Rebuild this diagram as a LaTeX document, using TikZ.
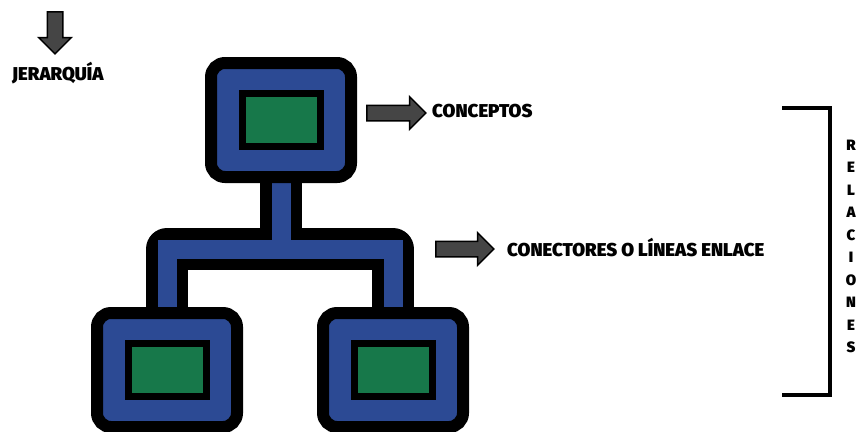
\documentclass[tikz,border=0pt]{standalone}
\usepackage{fontspec}
\setmainfont{Fira Sans}[BoldFont={Fira Sans Black}]
\usetikzlibrary{shapes.arrows}

\definecolor{boxblue}{HTML}{2C4A94}
\definecolor{boxgreen}{HTML}{17784A}
\definecolor{arrgray}{HTML}{454545}

\tikzset{
	frame/.style={draw=black, fill=boxblue, line width=12pt, rounded corners=14pt,
		minimum width=140pt, minimum height=114pt, inner sep=0pt},
	screen/.style={draw=black, fill=boxgreen, line width=7pt,
		minimum width=78pt, minimum height=53pt, inner sep=0pt},
	pipe/.style={draw=boxblue, line width=19pt,
		preaction={draw=black, line width=42pt, line join=round}},
	blockarr/.style={single arrow, draw=black, fill=arrgray, line width=1.5pt,
		inner xsep=0pt, inner ysep=7pt, single arrow head extend=8.5pt},
	label/.style={font=\bfseries\fontsize{18.6}{20}\selectfont, inner sep=0pt},
	letter/.style={font=\bfseries\fontsize{15}{16}\selectfont, inner sep=0pt}
}

\begin{document}
\begin{tikzpicture}[x=1pt, y=-1pt]
				\useasboundingbox (0,0) rectangle (861,431);

				\coordinate (fork) at (281,249);
				\node (top) at (281,120) {};
				\node (left) at (167,370) {};
				\node (right) at (393,370) {};

				% tubos
				\draw [pipe](left.center) |- (fork) -| (right.center) (fork) -- (top.center);

				% cajas
				\node [frame] (topbox) at (top) {};
				\node [frame] (leftbox) at (left) {};
				\node [frame] (rightbox) at (right) {};
				\node [screen] (topscr) at (top) {};
				\node [screen] (leftscr) at (left) {};
				\node [screen] (rightscr) at (right) {};

				% flechas y textos
				\node [blockarr, minimum height=42pt, rotate=-90] (arrjer) at (55,29) {};
				\node [label, anchor=west] (jer) at (12,73) {JERARQUÍA};

				\node [blockarr, minimum height=59pt] (arrconc) at (392.5,113) {};
				\node [label, anchor=west] (conc) at (432,111) {CONCEPTOS};

				\node [blockarr, minimum height=58pt] (arrcon) at (461,249) {};
				\node [label, anchor=west] (con) at (507,248) {CONECTORES O LÍNEAS ENLACE};

				% llave
				\draw [line width=4pt](782,108) -- (830,108) -- (830,395) -- (782,395);
				\foreach \ch [count=\i from 0] in {R,E,L,A,C,I,O,N,E,S}
					\node [letter] (rel\i) at (851,145+22.5*\i) {\ch};
			\end{tikzpicture}
\end{document}
